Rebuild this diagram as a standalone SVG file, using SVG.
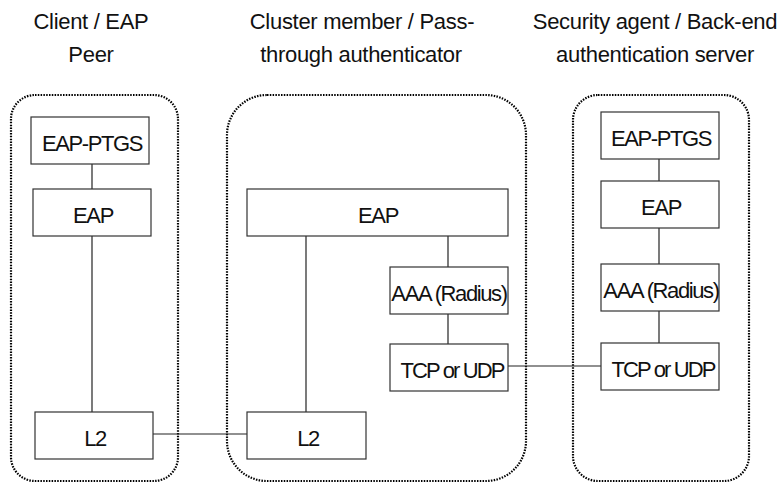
<svg xmlns="http://www.w3.org/2000/svg" width="783" height="483" viewBox="0 0 783 483">
  <style>
    .hdr { font-family: "Liberation Sans", Arial, sans-serif; font-size: 22px; fill: #111; text-anchor: middle; letter-spacing: -0.3px; }
    .lbl { font-family: "Liberation Sans", Arial, sans-serif; font-size: 22px; fill: #111; text-anchor: middle; letter-spacing: -1.4px; }
    .tight { letter-spacing: -1.9px; }
    .zone { fill: none; stroke: #000; stroke-width: 2.2; stroke-dasharray: 1.5 1.3; }
    .box { fill: #fff; stroke: #333; stroke-width: 1.2; }
    .wire { fill: none; stroke: #222; stroke-width: 1.2; }
  </style>

  <!-- column headings -->
  <g id="headings">
    <text class="hdr" x="91" y="29">Client / EAP</text>
    <text class="hdr" x="91" y="62">Peer</text>
    <text class="hdr" x="362" y="29">Cluster member / Pass-</text>
    <text class="hdr" x="361" y="62">through authenticator</text>
    <text class="hdr" x="655" y="29">Security agent / Back-end</text>
    <text class="hdr" x="655" y="62">authentication server</text>
  </g>

  <!-- dotted host outlines -->
  <g id="hosts">
    <rect id="host-client" class="zone" x="11" y="95" width="167" height="386" rx="24" ry="24"/>
    <rect id="host-cluster" class="zone" x="227" y="95" width="299" height="386" rx="40" ry="40"/>
    <rect id="host-server" class="zone" x="573" y="95" width="176" height="386" rx="25" ry="25"/>
  </g>

  <!-- links between protocol layers -->
  <g id="connectors">
    <line class="wire" x1="92" y1="164" x2="92" y2="189"/>
    <line class="wire" x1="92" y1="236" x2="92" y2="412"/>
    <line class="wire" x1="153" y1="434" x2="247" y2="434"/>
    <line class="wire" x1="306" y1="236" x2="306" y2="412"/>
    <line class="wire" x1="448" y1="236" x2="448" y2="267"/>
    <line class="wire" x1="448" y1="314" x2="448" y2="344"/>
    <line class="wire" x1="508" y1="366" x2="601" y2="366"/>
    <line class="wire" x1="659" y1="159" x2="659" y2="181"/>
    <line class="wire" x1="659" y1="228" x2="659" y2="264"/>
    <line class="wire" x1="659" y1="311" x2="659" y2="343"/>
  </g>

  <!-- client stack -->
  <g id="client-eap-ptgs">
    <rect class="box" x="31" y="117" width="118" height="47"/>
    <text class="lbl" x="92" y="151">EAP-PTGS</text>
  </g>
  <g id="client-eap">
    <rect class="box" x="33" y="189" width="118" height="47"/>
    <text class="lbl" x="93" y="223">EAP</text>
  </g>
  <g id="client-l2">
    <rect class="box" x="35" y="412" width="118" height="47"/>
    <text class="lbl" x="95" y="446">L2</text>
  </g>

  <!-- cluster member stack -->
  <g id="cluster-eap">
    <rect class="box" x="247" y="189" width="261" height="47"/>
    <text class="lbl" x="378" y="223">EAP</text>
  </g>
  <g id="cluster-aaa">
    <rect class="box" x="390" y="267" width="118" height="47"/>
    <text class="lbl" x="449" y="301">AAA (Radius)</text>
  </g>
  <g id="cluster-transport">
    <rect class="box" x="390" y="344" width="118" height="47"/>
    <text class="lbl tight" x="452" y="378">TCP or UDP</text>
  </g>
  <g id="cluster-l2">
    <rect class="box" x="247" y="412" width="119" height="47"/>
    <text class="lbl" x="308" y="446">L2</text>
  </g>

  <!-- authentication server stack -->
  <g id="server-eap-ptgs">
    <rect class="box" x="601" y="112" width="118" height="47"/>
    <text class="lbl" x="661" y="146">EAP-PTGS</text>
  </g>
  <g id="server-eap">
    <rect class="box" x="601" y="181" width="118" height="47"/>
    <text class="lbl" x="661" y="215">EAP</text>
  </g>
  <g id="server-aaa">
    <rect class="box" x="601" y="264" width="118" height="47"/>
    <text class="lbl" x="661" y="298">AAA (Radius)</text>
  </g>
  <g id="server-transport">
    <rect class="box" x="601" y="343" width="118" height="47"/>
    <text class="lbl tight" x="663" y="377">TCP or UDP</text>
  </g>
</svg>
